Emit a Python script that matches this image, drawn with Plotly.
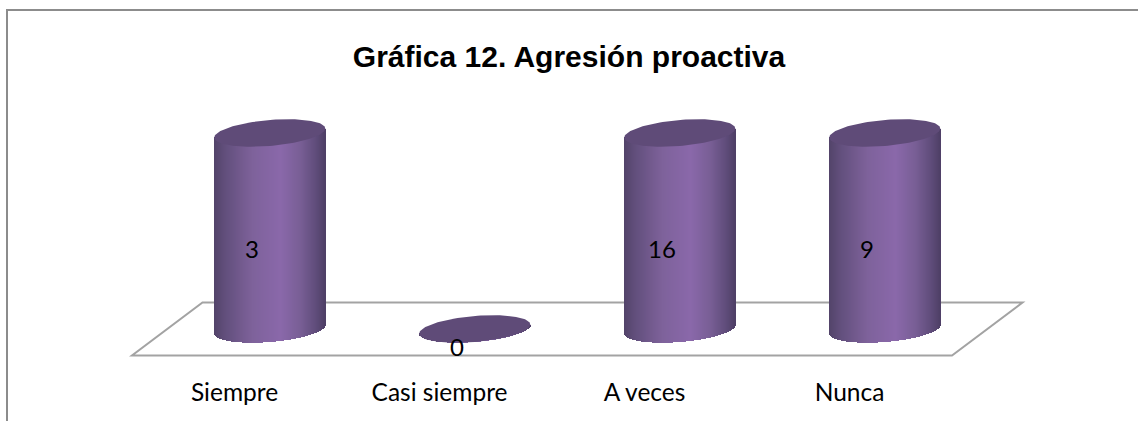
import numpy as np
import plotly.graph_objects as go

# --- data -------------------------------------------------------------
categories = ["Siempre", "Casi siempre", "A veces", "Nunca"]
values = [3, 0, 16, 9]
title_text = "Gráfica 12. Agresión proactiva"
axis_max = 3  # the source chart's value axis stops here, taller columns are cut off

# --- layout constants (pixels of the 1138x421 page) -------------------
W, H = 1138, 421
PLOT_BOTTOM = 375
CAT_STEP = 205.0
CAT0 = 234.5
ZERO_PX = 329.0
TOP_PX = 133.0
PX_PER_UNIT = (ZERO_PX - TOP_PX) / axis_max
DEPTH_X = 70.5
DEPTH_Y = 26.5
CYL_DX = DEPTH_X / 2
CYL_A = 55.5
CYL_B = 13.0
CYL_SHEAR = 4.5

CAP = "#5f4b78"
STOPS = [(0.0, (0x52, 0x43, 0x69)), (0.10, (0x62, 0x4f, 0x7c)), (0.35, (0x7e, 0x62, 0x9b)),
         (0.60, (0x8a, 0x68, 0xaa)), (0.78, (0x78, 0x5e, 0x95)), (0.92, (0x5f, 0x4c, 0x7a)),
         (1.0, (0x4e, 0x3f, 0x66))]


def shade(f):
    fs = [s[0] for s in STOPS]
    rgb = [np.interp(f, fs, [s[1][k] for s in STOPS]) for k in range(3)]
    return "rgb(%d,%d,%d)" % tuple(int(round(c)) for c in rgb)


dx = 1 / CAT_STEP          # one pixel in x units
dy = 1 / PX_PER_UNIT       # one pixel in y units

fig = go.Figure()

# floor
front = -DEPTH_Y * dy
back = DEPTH_Y * dy
left, right = -0.5, len(categories) - 0.5
shift = DEPTH_X * dx
floor_path = "M %f %f L %f %f L %f %f L %f %f Z" % (
    left, front, right, front, right + shift, back, left + shift, back)

# cylinder bodies: 1-pixel slices, each a bar from the base ellipse up to the value
bx, bw, bbase, bh, bcol = [], [], [], [], []
for i, v in enumerate(values):
    shown = min(v, axis_max)
    for u in np.linspace(-1, 1, int(2 * CYL_A), endpoint=False) + 1 / (2 * CYL_A):
        low = (CYL_SHEAR * u - CYL_B * np.sqrt(max(0, 1 - u * u))) * dy
        high = shown + CYL_SHEAR * u * dy
        bx.append(i + (CYL_DX + u * CYL_A) * dx)
        bw.append(1.5 * dx)
        bbase.append(low)
        bh.append(high - low)
        bcol.append(shade((u + 1) / 2))
fig.add_trace(go.Bar(x=bx, y=bh, base=bbase, width=bw,
                     marker=dict(color=bcol, line=dict(width=0)),
                     hoverinfo="skip", showlegend=False))

# cylinder caps
t = np.linspace(0, 2 * np.pi, 121)
for i, v in enumerate(values):
    shown = min(v, axis_max)
    fig.add_trace(go.Scatter(
        x=i + (CYL_DX + CYL_A * np.cos(t)) * dx,
        y=shown + (CYL_SHEAR * np.cos(t) + CYL_B * np.sin(t)) * dy,
        mode="lines", fill="toself", fillcolor=CAP, line=dict(width=0, color=CAP),
        hoverinfo="skip", showlegend=False))

# data labels
annotations = [
    dict(x=i, y=min(v, axis_max) / 2, xref="x", yref="y", text=str(v), showarrow=False,
         xshift=17.5, yshift=-17, font=dict(family="Lato", size=24, color="#000000"))
    for i, v in enumerate(values)
]

# chart frame (top and left edges only are visible) and the floor under the columns
FRAME = "#8c8c8c"
py = lambda px: 1 - px / PLOT_BOTTOM
shapes = [
    dict(type="path", xref="x", yref="y", path=floor_path, layer="below",
         line=dict(color="#a3a3a3", width=2), fillcolor="white"),
    dict(type="line", xref="paper", yref="paper", x0=6.5 / W, x1=1, y0=py(10), y1=py(10),
         line=dict(color=FRAME, width=2)),
    dict(type="line", xref="paper", yref="paper", x0=7 / W, x1=7 / W, y0=py(9), y1=py(H),
         line=dict(color=FRAME, width=2)),
]

fig.update_layout(
    width=W, height=H,
    margin=dict(l=0, r=0, t=0, b=H - PLOT_BOTTOM, pad=0),
    paper_bgcolor="white", plot_bgcolor="white",
    barmode="overlay", bargap=0,
    showlegend=False,
    title=dict(text="<b>%s</b>" % title_text, x=569 / W, xanchor="center", xref="paper",
               y=1 - 56 / H, yanchor="middle", yref="container",
               font=dict(family="Liberation Sans", size=30, color="#000000")),
    xaxis=dict(range=[-CAT0 / CAT_STEP, (W - CAT0) / CAT_STEP], tickmode="array",
               tickvals=list(range(len(categories))), ticktext=categories,
               showgrid=False, zeroline=False, showline=False, ticks="",
               tickfont=dict(family="Lato", size=24.5, color="#000000"), fixedrange=True),
    yaxis=dict(range=[(ZERO_PX - PLOT_BOTTOM) * dy, ZERO_PX * dy], visible=False, fixedrange=True),
    annotations=annotations, shapes=shapes,
)

fig.write_html("out.html", config=dict(displayModeBar=False), post_script="document.body.style.margin='0';")
